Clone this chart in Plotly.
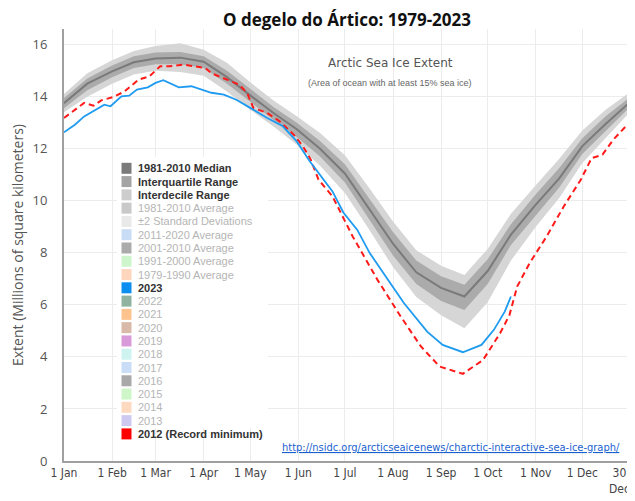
import plotly.graph_objects as go

"""
Extensão do gelo marinho do Ártico (NSIDC Charctic) - 2023 vs 2012 vs mediana 1981-2010
"""

# dias do ano (0 = 1 Jan)
band_days = [0, 15, 31, 45, 59, 75, 90, 105, 120, 135, 150, 165, 181, 196,
             212, 227, 243, 258, 273, 288, 304, 319, 334, 349, 363]
median_1981_2010 = [13.75, 14.5, 14.97, 15.32, 15.47, 15.5, 15.34, 14.75, 14.05, 13.37, 12.75, 12.0, 11.05, 9.75,
                    8.35, 7.25, 6.65, 6.32, 7.3, 8.7, 9.85, 10.85, 12.1, 12.95, 13.7]
iqr_low = [13.55, 14.25, 14.75, 15.1, 15.25, 15.25, 15.1, 14.5, 13.8, 13.1, 12.45, 11.7, 10.7, 9.35,
           7.9, 6.8, 6.15, 5.8, 6.8, 8.3, 9.45, 10.5, 11.8, 12.7, 13.5]
iqr_high = [13.95, 14.7, 15.2, 15.55, 15.7, 15.72, 15.55, 15.0, 14.3, 13.6, 13.0, 12.3, 11.4, 10.15,
            8.8, 7.7, 7.1, 6.77, 7.75, 9.1, 10.25, 11.25, 12.4, 13.25, 13.9]
idr_low = [13.4, 14.0, 14.5, 14.85, 15.0, 14.95, 14.8, 14.2, 13.5, 12.85, 12.15, 11.35, 10.3, 8.95,
           7.45, 6.3, 5.6, 5.1, 6.1, 7.7, 9.0, 10.1, 11.45, 12.4, 13.3]
idr_high = [14.1, 14.9, 15.4, 15.75, 15.95, 16.05, 15.8, 15.3, 14.55, 13.85, 13.25, 12.6, 11.75, 10.55,
            9.2, 8.1, 7.5, 7.15, 8.15, 9.5, 10.6, 11.6, 12.7, 13.5, 14.1]

days_2023 = [0, 7, 13, 20, 26, 30, 37, 42, 47, 54, 59, 64, 68, 74, 82, 89, 95, 103, 111, 120,
             131, 141, 150, 158, 165, 173, 180, 189, 197, 210, 219, 234, 244, 257, 269, 277, 284, 288]
ext_2023 = [12.63, 12.92, 13.24, 13.5, 13.69, 13.63, 14.01, 14.04, 14.27, 14.36, 14.53, 14.63, 14.53, 14.36,
            14.4, 14.27, 14.15, 14.08, 13.88, 13.57, 13.18, 12.86, 12.28, 11.55, 11.0, 10.36, 9.55, 8.88,
            7.99, 6.83, 6.07, 4.97, 4.46, 4.18, 4.46, 5.04, 5.74, 6.32]

days_2012 = [0, 7, 13, 19, 24, 32, 39, 48, 55, 62, 68, 77, 84, 91, 95, 103, 113, 118, 122, 131,
             139, 148, 154, 159, 164, 173, 186, 202, 217, 230, 242, 257, 270, 281, 287, 292, 300,
             311, 322, 333, 340, 347, 354, 362]
ext_2012 = [13.18, 13.5, 13.76, 13.65, 13.86, 13.99, 14.2, 14.65, 14.78, 15.17, 15.17, 15.23, 15.17, 15.1,
            14.9, 14.71, 14.46, 14.14, 13.57, 13.37, 13.05, 12.54, 12.09, 11.58, 10.81, 10.17, 8.63, 6.96,
            5.55, 4.4, 3.63, 3.35, 3.88, 4.91, 5.6, 6.7, 7.6, 8.63, 9.78, 10.81, 11.64, 11.77, 12.35, 12.86]

month_days = [0, 31, 59, 90, 120, 151, 181, 212, 243, 273, 304, 334, 363]
month_labels = ["1 Jan", "1 Feb", "1 Mar", "1 Apr", "1 May", "1 Jun", "1 Jul", "1 Aug",
                "1 Sep", "1 Oct", "1 Nov", "1 Dec", "30<br>Dec"]

# legenda (Charctic): texto, cor, ativo
legend_labels = ["1981-2010 Median", "Interquartile Range", "Interdecile Range", "1981-2010 Average",
                 "±2 Standard Deviations", "2011-2020 Average", "2001-2010 Average", "1991-2000 Average",
                 "1979-1990 Average", "2023", "2022", "2021", "2020", "2019", "2018", "2017", "2016",
                 "2015", "2014", "2013", "2012 (Record minimum)"]
legend_colors = ["#7a7a7a", "#a4a4a4", "#cdcdcd", "#c9c9c9", "#e9e9e9", "#c8dcf6", "#ababab", "#cdf6cd",
                 "#fdd6bd", "#0a8ef0", "#8fb3a0", "#fcc38f", "#d9b9a8", "#d99ad9", "#cff3f0", "#c9ddf6",
                 "#a9a9a9", "#cff6c9", "#fdd9c0", "#cdc9f1", "#ff0000"]
legend_active = [True, True, True, False, False, False, False, False, False, True, False, False, False,
                 False, False, False, False, False, False, False, True]

W, H = 635, 501
OFF = 8  # marge du body html
L, R, T, B = 64 - OFF, OFF + 3, 29 - OFF, 40 + OFF
PW, PH = W - L - R, H - T - B
X_MAX = 366

tick_font = dict(family="Liberation Sans Narrow, DejaVu Sans Condensed, sans-serif", size=12, color="#444444")


def px(x):
    return (x - 64) / PW


def py(y):
    return (461 - y) / PH


fig = go.Figure()

# faixa interdecil
fig.add_trace(go.Scatter(x=band_days, y=idr_high, mode="lines", line=dict(width=0),
                         showlegend=False, hoverinfo="skip"))
fig.add_trace(go.Scatter(x=band_days, y=idr_low, mode="lines", line=dict(width=0),
                         fill="tonexty", fillcolor="#d6d6d6", showlegend=False, hoverinfo="skip"))
# faixa interquartil
fig.add_trace(go.Scatter(x=band_days, y=iqr_high, mode="lines", line=dict(width=0),
                         showlegend=False, hoverinfo="skip"))
fig.add_trace(go.Scatter(x=band_days, y=iqr_low, mode="lines", line=dict(width=0),
                         fill="tonexty", fillcolor="#ababab", showlegend=False, hoverinfo="skip"))
fig.add_trace(go.Scatter(x=band_days, y=median_1981_2010, mode="lines",
                         line=dict(color="#7a7a7a", width=2), name="1981-2010 Median", showlegend=False))

fig.add_trace(go.Scatter(x=days_2012, y=ext_2012, mode="lines",
                         line=dict(color="#ff1a1a", width=2, dash="6px,4px"), name="2012", showlegend=False))
fig.add_trace(go.Scatter(x=days_2023, y=ext_2023, mode="lines",
                         line=dict(color="#1e9bf0", width=1.8), name="2023", showlegend=False))

shapes = []
annotations = []

# caixa da legenda
shapes.append(dict(type="rect", xref="paper", yref="paper", x0=px(117), x1=px(268), y0=py(428), y1=py(157),
                   fillcolor="white", line=dict(width=0), layer="above"))
row_h = 13.28
for i, (lab, col, act) in enumerate(zip(legend_labels, legend_colors, legend_active)):
    yc = 168.3 + i * row_h
    shapes.append(dict(type="rect", xref="paper", yref="paper", x0=px(121.5), x1=px(131.5),
                       y0=py(yc + 5.5), y1=py(yc - 5.5), fillcolor=col, line=dict(width=0), layer="above"))
    txt = f"<b>{lab}</b>" if act else lab
    annotations.append(dict(x=px(136), y=py(yc), xref="paper", yref="paper", text=txt, showarrow=False,
                            xanchor="left", yanchor="middle",
                            font=dict(family="Liberation Sans, Arial, sans-serif", size=11,
                                      color="#333333" if act else "#b5b5b5")))

annotations.append(dict(x=px(390), y=py(63), xref="paper", yref="paper", text="Arctic Sea Ice Extent",
                        showarrow=False, xanchor="center", yanchor="middle",
                        font=dict(family="DejaVu Sans, sans-serif", size=12, color="#555555")))
annotations.append(dict(x=px(390), y=py(83), xref="paper", yref="paper",
                        text="(Area of ocean with at least 15% sea ice)",
                        showarrow=False, xanchor="center", yanchor="middle",
                        font=dict(family="Liberation Sans, Arial, sans-serif", size=9, color="#666666")))
annotations.append(dict(x=px(622), y=py(447), xref="paper", yref="paper",
                        text="<u>http://nsidc.org/arcticseaicenews/charctic-interactive-sea-ice-graph/</u>",
                        showarrow=False, xanchor="right", yanchor="middle",
                        font=dict(family="Liberation Sans Narrow, DejaVu Sans Condensed, sans-serif",
                                  size=11, color="#1a5fd0")))
# dernier label de l'axe x, décalé pour rester dans le cadre
annotations.append(dict(x=px(632), y=py(464), xref="paper", yref="paper", text=month_labels[-1],
                        showarrow=False, xanchor="right", yanchor="top", align="center", font=tick_font))

fig.update_layout(
    width=W, height=H,
    margin=dict(l=L, r=R, t=T, b=B),
    paper_bgcolor="white", plot_bgcolor="white",
    title=dict(text="<b>O degelo do Ártico: 1979-2023</b>", x=(347 - OFF) / W, xanchor="center",
               y=1 - 12 / H, yanchor="middle",
               font=dict(family="Open Sans, sans-serif", size=17, color="#111111")),
    shapes=shapes, annotations=annotations,
    showlegend=False,
)
fig.update_xaxes(range=[0, X_MAX], tickmode="array", tickvals=month_days,
                 ticktext=month_labels[:-1] + [""], automargin=False,
                 showgrid=True, gridcolor="#ececec", gridwidth=1, zeroline=False,
                 showline=True, linecolor="#a0a0a0", linewidth=2, ticks="", tickfont=tick_font)
fig.update_yaxes(range=[0, 16.6], tickvals=[0, 2, 4, 6, 8, 10, 12, 14, 16], automargin=False,
                 showgrid=True, gridcolor="#ececec", gridwidth=1, zeroline=False,
                 showline=True, linecolor="#a0a0a0", linewidth=2, ticks="", ticklabelstandoff=12,
                 tickfont=dict(family="Open Sans, sans-serif", size=13, color="#555555"),
                 title=dict(text="Extent (Millions of square kilometers)", standoff=12,
                            font=dict(family="Open Sans, sans-serif", size=14, color="#555555")))

fig.write_html("out.html")
